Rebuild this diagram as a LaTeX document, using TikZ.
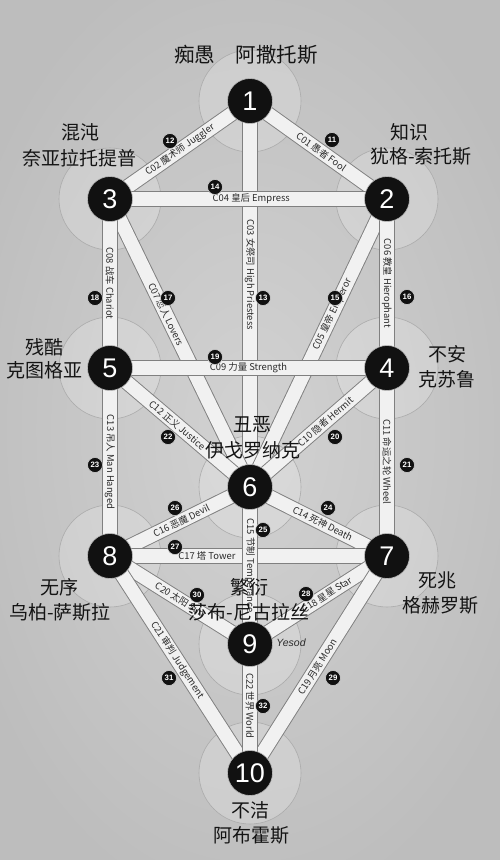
\documentclass[tikz,border=0pt]{standalone}
\usepackage{fontspec}
\setmainfont{Noto Sans CJK SC}
\newfontfamily\numfont{Liberation Sans}
\pgfdeclarelayer{bg}
\pgfdeclarelayer{bands}
\pgfsetlayers{bg,bands,main}
\definecolor{bgin}{HTML}{D2D2D2}
\definecolor{bgout}{HTML}{BDBDBD}
\definecolor{haloc}{HTML}{ABABAB}
\definecolor{edgec}{HTML}{808080}
\definecolor{bandc}{HTML}{F1F1F1}
\definecolor{labc}{HTML}{2A2A2A}
\definecolor{sephc}{HTML}{111111}
\definecolor{bigc}{HTML}{141414}
\tikzset{
  seph/.style={circle, fill=sephc, draw=white!75!black, line width=0.6pt,
    minimum size=45pt, inner sep=0pt, text=white,
    font=\numfont\fontsize{27}{27}\selectfont},
  badge/.style={circle, fill=sephc, draw=white!85!black, line width=0.5pt,
    minimum size=15pt, inner sep=0pt, text=white,
    font=\numfont\bfseries\fontsize{7.8}{7.8}\selectfont},
  bandedge/.style={line width=15.5pt, draw=edgec},
  bandfill/.style={line width=13.6pt, draw=bandc},
  plabel/.style={font=\fontsize{9.4}{9.4}\selectfont, text=labc, inner sep=0pt},
  bigtext/.style={font=\fontsize{19}{19}\selectfont, text=bigc, inner sep=0pt},
  halo/.style={fill=white, fill opacity=0.2, draw=haloc, line width=0.6pt}
}
\newcommand{\bandpath}[2]{%
  \draw[bandedge] (#1.center) -- (#2.center);
  \draw[bandfill] (#1.center) -- (#2.center);}
\begin{document}
\begin{tikzpicture}[x=1pt,y=-1pt]
\useasboundingbox (0,0) rectangle (500,860);
% sephirot
\node[seph] (n1) at (250,101) {1};
\node[seph] (n2) at (387,199) {2};
\node[seph] (n3) at (110,199) {3};
\node[seph] (n4) at (387,368) {4};
\node[seph] (n5) at (110,368) {5};
\node[seph] (n6) at (250,487) {6};
\node[seph] (n7) at (387,556) {7};
\node[seph] (n8) at (110,556) {8};
\node[seph] (n9) at (250,644) {9};
\node[seph] (n10) at (250,773) {10};
% background and halos
\begin{pgfonlayer}{bg}
  \shade[inner color=bgin, outer color=bgout] (-60,-60) rectangle (560,920);
  \foreach \n in {n1,n2,n3,n4,n5,n6,n7,n8,n9,n10}
    \draw[halo] (\n.center) circle (51pt);
\end{pgfonlayer}
% paths
\begin{pgfonlayer}{bands}
  \bandpath{n1}{n6}
  \bandpath{n6}{n2}
  \bandpath{n3}{n6}
  \bandpath{n1}{n2}
  \bandpath{n3}{n1}
  \bandpath{n2}{n4}
  \bandpath{n3}{n5}
  \bandpath{n3}{n2}
  \bandpath{n5}{n4}
  \bandpath{n6}{n4}
  \bandpath{n4}{n7}
  \bandpath{n5}{n6}
  \bandpath{n5}{n8}
  \bandpath{n6}{n7}
  \bandpath{n8}{n6}
  \bandpath{n8}{n7}
  \bandpath{n6}{n9}
  \bandpath{n9}{n7}
  \bandpath{n10}{n7}
  \bandpath{n8}{n9}
  \bandpath{n8}{n10}
  \bandpath{n9}{n10}
\end{pgfonlayer}
% path labels
\path (n1.center) -- (n2.center) node[plabel, sloped, pos=0.52] (l01) {C01 愚者 Fool};
\path (n3.center) -- (n1.center) node[plabel, sloped, pos=0.5] (l02) {C02 魔术师 Juggler};
\path (n1.center) -- (n6.center) node[plabel, rotate=-90, pos=0.45] (l03) {C03 女祭司 High Priestess};
\path (n3.center) -- (n2.center) node[plabel, pos=0.51] (l04) {C04 皇后 Empress};
\path (n6.center) -- (n2.center) node[plabel, sloped, pos=0.6] (l05) {C05 皇帝 Emperor};
\path (n2.center) -- (n4.center) node[plabel, rotate=-90, pos=0.5] (l06) {C06 教皇 Hierophant};
\path (n3.center) -- (n6.center) node[plabel, sloped, pos=0.4] (l07) {C07 恋人 Lovers};
\path (n3.center) -- (n5.center) node[plabel, rotate=-90, pos=0.5] (l08) {C08 战车 Chariot};
\path (n5.center) -- (n4.center) node[plabel, pos=0.5] (l09) {C09 力量 Strength};
\path (n6.center) -- (n4.center) node[plabel, sloped, pos=0.55] (l10) {C10 隐者 Hermit};
\path (n4.center) -- (n7.center) node[plabel, rotate=-90, pos=0.5] (l11) {C11 命运之轮 Wheel};
\path (n5.center) -- (n6.center) node[plabel, sloped, pos=0.48] (l12) {C12 正义 Justice};
\path (n5.center) -- (n8.center) node[plabel, rotate=-90, pos=0.5] (l13) {C13 吊人 Man Hanged};
\path (n6.center) -- (n7.center) node[plabel, sloped, pos=0.53] (l14) {C14 死神 Death};
\path (n6.center) -- (n9.center) node[plabel, rotate=-90, pos=0.5] (l15) {C15 节制 Temperance};
\path (n8.center) -- (n6.center) node[plabel, sloped, pos=0.51] (l16) {C16 恶魔 Devil};
\path (n8.center) -- (n7.center) node[plabel, pos=0.35] (l17) {C17 塔 Tower};
\path (n9.center) -- (n7.center) node[plabel, sloped, pos=0.56] (l18) {C18 星星 Star};
\path (n10.center) -- (n7.center) node[plabel, sloped, pos=0.49] (l19) {C19 月亮 Moon};
\path (n8.center) -- (n9.center) node[plabel, sloped, pos=0.5] (l20) {C20 太阳 Sun};
\path (n8.center) -- (n10.center) node[plabel, sloped, pos=0.48] (l21) {C21 审判 Judgement};
\path (n9.center) -- (n10.center) node[plabel, rotate=-90, pos=0.48] (l22) {C22 世界 World};
% badges
\node[badge] (b11) at (332,140) {11};
\node[badge] (b12) at (170,141) {12};
\node[badge] (b13) at (263,298) {13};
\node[badge] (b14) at (215,187) {14};
\node[badge] (b15) at (335,298) {15};
\node[badge] (b16) at (407,297) {16};
\node[badge] (b17) at (168,298) {17};
\node[badge] (b18) at (95,298) {18};
\node[badge] (b19) at (215,357) {19};
\node[badge] (b20) at (335,437) {20};
\node[badge] (b21) at (407,465) {21};
\node[badge] (b22) at (168,437) {22};
\node[badge] (b23) at (95,465) {23};
\node[badge] (b24) at (328,508) {24};
\node[badge] (b25) at (263,530) {25};
\node[badge] (b26) at (175,508) {26};
\node[badge] (b27) at (175,547) {27};
\node[badge] (b28) at (306,594) {28};
\node[badge] (b29) at (333,678) {29};
\node[badge] (b30) at (197,595) {30};
\node[badge] (b31) at (169,678) {31};
\node[badge] (b32) at (263,706) {32};
% names
\node[bigtext, font=\fontsize{20.5}{20.5}\selectfont] (t1) at (246,55) {痴愚\hspace{1em}阿撒托斯};
\node[bigtext] (t3a) at (80,132) {混沌};
\node[bigtext] (t3b) at (80,158) {奈亚拉托提普};
\node[bigtext] (t2a) at (409,132) {知识};
\node[bigtext] (t2b) at (421,156) {犹格-索托斯};
\node[bigtext] (t5a) at (44,347) {残酷};
\node[bigtext] (t5b) at (44,370) {克图格亚};
\node[bigtext] (t4a) at (447,354) {不安};
\node[bigtext] (t4b) at (447,379) {克苏鲁};
\node[bigtext] (t6a) at (252,425) {丑恶};
\node[bigtext] (t6b) at (253,450) {伊戈罗纳克};
\node[bigtext] (t8a) at (59,587) {无序};
\node[bigtext] (t8b) at (60,612) {乌柏-萨斯拉};
\node[bigtext] (t7a) at (437,580) {死兆};
\node[bigtext] (t7b) at (440,605) {格赫罗斯};
\node[bigtext] (t9a) at (249,587) {繁衍};
\node[bigtext] (t9b) at (249,612) {莎布-尼古拉丝};
\node[bigtext] (t10a) at (250,810) {不洁};
\node[bigtext] (t10b) at (251,835) {阿布霍斯};
\node[font=\numfont\itshape\fontsize{10.5}{10.5}\selectfont, text=labc, inner sep=0pt] (yes) at (291,643) {Yesod};
\end{tikzpicture}
\end{document}
